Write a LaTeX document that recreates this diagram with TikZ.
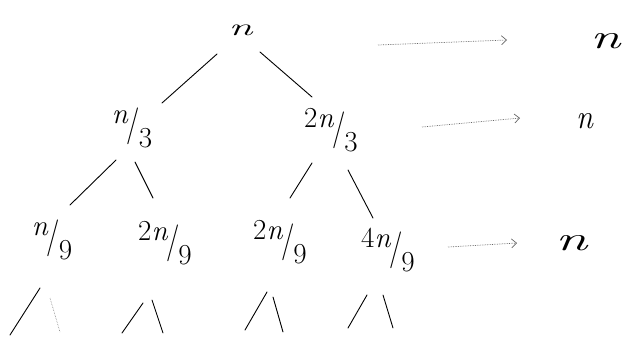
\documentclass[tikz,border=0pt]{standalone}
\usepackage{fontspec}
\usepackage{graphicx}
\usetikzlibrary{calc,arrows.meta}
% slashed fraction: raised numerator, tall slash, lowered denominator
\newcommand\hfr[2]{\raisebox{24pt}{#1}\kern-1.5pt\raisebox{11.5pt}{\scalebox{1}[1.27]{/}}\kern-1.5pt{#2}}
% lower-case n, stretched horizontally by #1
\newcommand\sn[1]{\scalebox{#1}[1]{\textit{n}}}
\begin{document}
\begin{tikzpicture}[x=1pt,y=-1pt,
  lbl/.style={inner sep=0pt, font=\fontsize{29}{34}\selectfont},
  top/.style={inner sep=0pt, font=\fontsize{24}{28}\selectfont},
  big/.style={inner sep=0pt, font=\fontsize{34}{40}\selectfont},
  edge/.style={line width=0.9pt, line cap=round},
  faint/.style={line width=0.6pt, gray, densely dotted},
  sumarrow/.style={densely dotted, line width=0.7pt, gray!80!black,
    -{Straight Barb[length=5pt,width=9pt]}}]
\useasboundingbox (0,0) rectangle (629,349);

% tree levels
\node[top] (root) at (241,30) {\sn{1.8}};
\node[lbl] (l1) at (132,128) {\hfr{\textit{n}}{3}};
\node[lbl] (r1) at (331,130) {\hfr{2\textit{n}}{3}};
\node[lbl] (a) at (52,240) {\hfr{\textit{n}}{9}};
\node[lbl] (b) at (165,243) {\hfr{2\textit{n}}{9}};
\node[lbl] (c) at (280,242) {\hfr{2\textit{n}}{9}};
\node[lbl] (d) at (388,250) {\hfr{4\textit{n}}{9}};

% per-level sums
\node[big] (s0) at (606,41) {\sn{1.6}};
\node[big] (s1) at (585,121) {\sn{0.9}};
\node[big] (s2) at (572,243) {\sn{1.7}};

% edges between levels
\draw[edge] ($(root)+(-24,24)$) -- ($(l1)+(30,-25)$);
\draw[edge] ($(root)+(19,22)$) -- ($(r1)+(-19,-33)$);
\draw[edge] ($(l1)+(-16,32)$) -- ($(a)+(18,-35)$);
\draw[edge] ($(l1)+(3,34)$) -- ($(b)+(-12,-45)$);
\draw[edge] ($(r1)+(-19,33)$) -- ($(c)+(10,-44)$);
\draw[edge] ($(r1)+(17,40)$) -- ($(d)+(-15,-32)$);

% further branching below the last level
\draw[edge] ($(a)+(-12,48)$) -- ($(a)+(-42,95)$);
\draw[faint] ($(a)+(-2,58)$) -- ($(a)+(8,92)$);
\draw[edge] ($(b)+(-22,60)$) -- ($(b)+(-43,90)$);
\draw[edge] ($(b)+(-13,57)$) -- ($(b)+(-2,90)$);
\draw[edge] ($(c)+(-13,50)$) -- ($(c)+(-35,88)$);
\draw[edge] ($(c)+(-7,55)$) -- ($(c)+(3,90)$);
\draw[edge] ($(d)+(-21,45)$) -- ($(d)+(-40,78)$);
\draw[edge] ($(d)+(-5,45)$) -- ($(d)+(5,78)$);

% arrows to the level sums
\coordinate (t0) at (378,45);
\coordinate (t1) at (422,127);
\coordinate (t2) at (448,247);
\draw[sumarrow] (t0) -- ($(s0)+(-99,-1)$);
\draw[sumarrow] (t1) -- ($(s1)+(-65,-3)$);
\draw[sumarrow] (t2) -- ($(s2)+(-55,0)$);
\end{tikzpicture}
\end{document}
